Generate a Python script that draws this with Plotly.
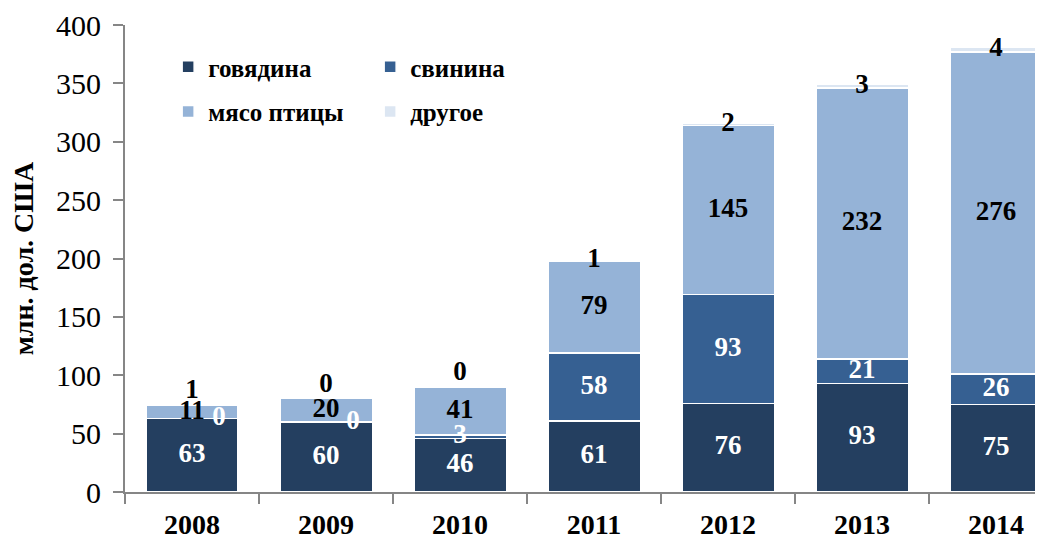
import plotly.graph_objects as go

years = ["2008", "2009", "2010", "2011", "2012", "2013", "2014"]
beef = [63, 60, 46, 61, 76, 93, 75]
pork = [0, 0, 3, 58, 93, 21, 26]
poultry = [11, 20, 41, 79, 145, 232, 276]
other = [1, 0, 0, 1, 2, 3, 4]
names = ["говядина", "свинина", "мясо птицы", "другое"]
colors = ["#243F60", "#366092", "#95B3D7", "#DCE6F2"]
y_ticks = [0, 50, 100, 150, 200, 250, 300, 350, 400]

series = [beef, pork, poultry, other]
FONT = "Liberation Serif"
NBSP = "\u00a0"

fig = go.Figure()
legends = ["legend", "legend", "legend2", "legend2"]
for s, n, c, lg in zip(series, names, colors, legends):
    fig.add_trace(go.Bar(
        x=years, y=s, name=n,
        marker=dict(color=c, line=dict(color="white", width=1.5)),
        width=0.69, legend=lg, hoverinfo="y+name",
    ))

# data labels as text traces
label_colors = ["white", "white", "black", "black"]
positions = [
    ["middle center"] * 7,
    ["middle right", "middle right"] + ["middle center"] * 5,
    ["middle center"] * 7,
    ["top center"] * 3 + ["middle center"] * 4,
]
base = [0] * len(years)
for k, s in enumerate(series):
    ys = []
    texts = []
    for i, v in enumerate(s):
        if k == 3:
            ys.append(base[i] + v / 2 if i >= 3 else base[i] + v)
        else:
            ys.append(base[i] + v / 2)
        pad = NBSP * 3 if positions[k][i] == "middle right" else ""
        texts.append(f"<b>{pad}{v}</b>")
    fig.add_trace(go.Scatter(
        x=years, y=ys, mode="text", text=texts,
        textposition=positions[k],
        textfont=dict(family=FONT, size=27, color=label_colors[k]),
        showlegend=False, hoverinfo="skip", cliponaxis=False,
    ))
    base = [b + v for b, v in zip(base, s)]

legend_font = dict(family=FONT, size=25, color="black", weight="bold")
fig.update_layout(
    barmode="stack",
    width=1035, height=534,
    margin=dict(l=117, r=0, t=17, b=50),
    paper_bgcolor="white", plot_bgcolor="white",
    font=dict(family=FONT, color="black"),
    legend=dict(orientation="h", x=0.047, y=0.91, xanchor="left", yanchor="middle",
                entrywidth=157, entrywidthmode="pixels", traceorder="normal",
                font=legend_font, bgcolor="rgba(0,0,0,0)", itemwidth=30),
    legend2=dict(orientation="h", x=0.047, y=0.814, xanchor="left", yanchor="middle",
                 entrywidth=157, entrywidthmode="pixels", traceorder="normal",
                 font=legend_font, bgcolor="rgba(0,0,0,0)", itemwidth=30),
    showlegend=True,
)
fig.update_xaxes(
    type="category", range=[-0.5, 6.35],
    showline=True, linecolor="#868686", linewidth=2,
    ticks="outside", tickson="boundaries", ticklen=10, tickcolor="#868686", tickwidth=2,
    tickfont=dict(family=FONT, size=28, color="black", weight="bold"),
    ticklabelstandoff=6,
    showgrid=False,
)
fig.update_yaxes(
    range=[0, 400], tickvals=y_ticks,
    showline=True, linecolor="#868686", linewidth=2,
    ticks="outside", ticklen=10, tickcolor="#868686", tickwidth=2,
    tickfont=dict(family=FONT, size=30, color="black"),
    ticklabelstandoff=6,
    showgrid=False, zeroline=False,
    title=dict(text="<b>млн. дол. США</b>", font=dict(family=FONT, size=28, color="black"), standoff=18),
)
fig.write_html("out.html")
